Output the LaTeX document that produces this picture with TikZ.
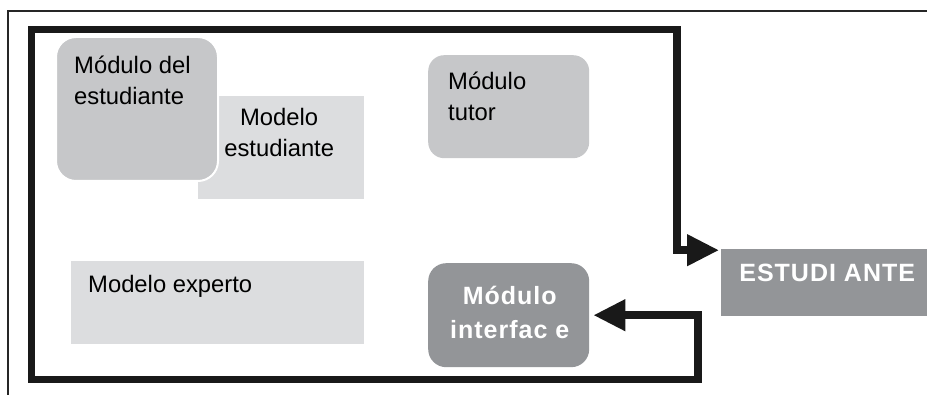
\documentclass[tikz,border=0pt]{standalone}
\usepackage{fontspec}
\setmainfont{Liberation Sans}
\newfontfamily\boldspaced[LetterSpace=4]{Liberation Sans Bold}
\usetikzlibrary{arrows.meta,positioning}
\definecolor{darkgrey}{HTML}{939598}
\definecolor{midgrey}{HTML}{C6C7C9}
\definecolor{lightgrey}{HTML}{DCDDDF}
\begin{document}
\begin{tikzpicture}[x=1pt, y=-1pt,
    module/.style={rectangle, rounded corners=18pt, fill=midgrey, anchor=north west, inner sep=0pt},
    model/.style={rectangle, fill=lightgrey, anchor=north west, inner sep=0pt},
    txt/.style={font=\fontsize{23.8}{31}\selectfont, align=left, inner sep=0pt, anchor=north west},
    boldtxt/.style={font=\boldspaced\fontsize{25}{34}\selectfont, text=white, align=center, inner sep=0pt, anchor=north},
    flow/.style={line width=7.5pt, black!90, -{Triangle[length=32pt,width=30pt]}}]
  \useasboundingbox (0,0) rectangle (927,395);
  % outer frame
  \draw[line width=2.5pt, black!85] (8,396) -- (8,11) -- (928,11);
  % boxes
  \node[model, minimum width=166pt, minimum height=103pt] (modest) at (198,96) {};
  \node[module, rounded corners=20pt, draw=white, line width=2pt, minimum width=162pt, minimum height=144pt] (modulest) at (55,36) {};
  \node[module, rounded corners=16pt, minimum width=161pt, minimum height=103pt] (tutor) at (428,55) {};
  \node[model, minimum width=293pt, minimum height=83pt] (expert) at (71,261) {};
  \node[module, fill=darkgrey, minimum width=161pt, minimum height=104pt] (iface) at (428,263) {};
  \node[model, fill=darkgrey, minimum width=206pt, minimum height=67pt] (estud) at (721,249) {};
  % texts
  \node[txt] (modulestlbl) at ([shift={(19,20)}]modulest.north west) {Módulo del\\estudiante};
  \node[txt, align=center, anchor=north] (modestlbl) at ([shift={(-2,12)}]modest.north) {Modelo\\estudiante};
  \node[txt] (tutorlbl) at ([shift={(20,17)}]tutor.north west) {Módulo\\tutor};
  \node[txt] (expertlbl) at ([shift={(17,14)}]expert.north west) {Modelo experto};
  \node[boldtxt] (ifacelbl) at ([shift={(1,23)}]iface.north) {Módulo\\interfac e};
  \node[boldtxt] (estudlbl) at ([shift={(3,15)}]estud.north) {ESTUDI ANTE};
  % loop
  \coordinate (tl) at (31.5,29.5);
  \coordinate (tr) at (677,29.5);
  \coordinate (bl) at (31.5,379.5);
  \coordinate (br) at (698,379.5);
  \draw[flow, line cap=rect, shorten >=2pt] (bl) -- (tl) -- (tr) |- ([yshift=32.5pt]estud.west);
  \draw[flow, line cap=rect, shorten >=4pt] (bl) -- (br) |- (iface.east);
\end{tikzpicture}
\end{document}
